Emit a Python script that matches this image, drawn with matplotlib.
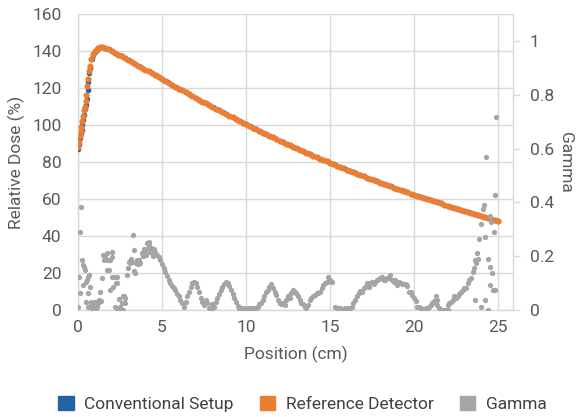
import numpy as np
import matplotlib
matplotlib.use('Agg')
import matplotlib.pyplot as plt
from matplotlib.patches import Patch
from matplotlib.ticker import FuncFormatter

plt.rcParams['font.family'] = ['Roboto', 'DejaVu Sans']

# depth dose, build-up region (cm, %)
buildup_x = [0.0, 0.05, 0.1, 0.15, 0.2, 0.25, 0.3, 0.35, 0.4, 0.45, 0.5,
             0.55, 0.6, 0.65, 0.7, 0.8, 0.9, 1.0, 1.1, 1.2, 1.3, 1.4]
ref_buildup = [88, 91, 94, 97, 99, 102, 105, 108, 110, 113, 116,
               121, 125, 129, 132, 136, 138.5, 140, 141, 141.8, 142.2, 142.3]
conv_buildup = [87, 90, 93, 95.5, 97.5, 100, 103, 105.5, 108.5, 111, 114,
                119, 123.5, 128, 131, 135.5, 138, 139.6, 140.8, 141.6, 142.1, 142.3]

# fall-off region, every 0.2 cm from 1.6 to 25.0
falloff_x = np.round(np.arange(1.6, 25.01, 0.2), 1)
falloff = [141.6, 140.9, 140.0, 139.1, 138.1, 137.1, 136.2, 135.2,
           134.2, 133.1, 132.1, 131.0, 130.0, 129.0, 127.9, 126.9, 125.8, 124.8,
           123.8, 122.8, 121.7, 120.7, 119.7, 118.7, 117.7, 116.7, 115.7, 114.7,
           113.7, 112.7, 111.8, 110.8, 109.8, 108.8, 107.9, 106.9, 106.0, 105.0,
           104.1, 103.1, 102.2, 101.2, 100.3, 99.4, 98.5, 97.6, 96.7, 95.8,
           95.0, 94.1, 93.3, 92.4, 91.6, 90.8, 89.9, 89.1, 88.2, 87.4,
           86.6, 85.8, 85.0, 84.2, 83.4, 82.6, 81.8, 81.1, 80.3, 79.5,
           78.8, 78.0, 77.3, 76.5, 75.8, 75.1, 74.4, 73.6, 72.9, 72.2,
           71.5, 70.8, 70.2, 69.5, 68.8, 68.1, 67.5, 66.8, 66.2, 65.5,
           64.9, 64.2, 63.6, 62.9, 62.3, 61.7, 61.1, 60.5, 59.9, 59.3,
           58.7, 58.1, 57.6, 57.0, 56.4, 55.8, 55.3, 54.7, 54.2, 53.6,
           53.1, 52.5, 52.0, 51.4, 50.9, 50.4, 49.9, 49.3, 48.8, 48.3]

gamma_x = [0.02, 0.06, 0.1, 0.12, 0.18, 0.22, 0.28, 0.32, 0.35, 0.4, 0.45, 0.48,
           0.52, 0.58, 0.61, 0.62, 0.68, 0.71, 0.72, 0.75, 0.8, 0.85, 0.9, 0.95,
           1.0, 1.05, 1.1, 1.15, 1.2, 1.25, 1.31, 1.38, 1.41, 1.5, 1.52, 1.6,
           1.7, 1.72, 1.78, 1.85, 1.9, 1.92, 2.0, 2.02, 2.05, 2.1, 2.15, 2.2,
           2.25, 2.3, 2.35, 2.4, 2.45, 2.5, 2.55, 2.6, 2.65, 2.7, 2.72, 2.78,
           2.8, 2.9, 3.0, 3.05, 3.1, 3.15, 3.2, 3.3, 3.32, 3.35, 3.4, 3.45,
           3.5, 3.55, 3.6, 3.65, 3.7, 3.8, 3.85, 3.9, 3.95, 4.0, 4.05, 4.1,
           4.15, 4.2, 4.25, 4.3, 4.35, 4.4, 4.45, 4.5, 4.55, 4.6, 4.7, 4.8,
           4.9, 5.0, 5.1, 5.2, 5.3, 5.4, 5.5, 5.6, 5.7, 5.8, 5.9, 6.0,
           6.1, 6.2, 6.3, 6.4, 6.5, 6.6, 6.7, 6.8, 6.9, 7.0, 7.1, 7.2,
           7.3, 7.4, 7.5, 7.6, 7.7, 7.8, 7.9, 8.0, 8.1, 8.2, 8.3, 8.4,
           8.5, 8.6, 8.7, 8.8, 8.9, 9.0, 9.1, 9.2, 9.3, 9.4, 9.5, 9.6,
           9.7, 9.8, 9.9, 10.0, 10.1, 10.2, 10.3, 10.4, 10.5, 10.6, 10.7, 10.8,
           10.9, 11.0, 11.1, 11.2, 11.3, 11.4, 11.5, 11.6, 11.7, 11.8, 11.9, 12.0,
           12.1, 12.2, 12.3, 12.4, 12.5, 12.6, 12.7, 12.8, 12.9, 13.0, 13.1, 13.2,
           13.3, 13.4, 13.5, 13.6, 13.7, 13.8, 13.9, 14.0, 14.1, 14.2, 14.3, 14.4,
           14.5, 14.6, 14.7, 14.8, 14.9, 15.0, 15.1, 15.3, 15.4, 15.5, 15.6, 15.7,
           15.8, 15.9, 16.0, 16.1, 16.2, 16.3, 16.4, 16.5, 16.6, 16.7, 16.8, 16.9,
           17.0, 17.1, 17.2, 17.3, 17.4, 17.5, 17.6, 17.7, 17.8, 17.9, 18.0, 18.1,
           18.2, 18.3, 18.4, 18.5, 18.6, 18.7, 18.8, 18.9, 19.0, 19.1, 19.2, 19.3,
           19.4, 19.5, 19.6, 19.7, 19.8, 19.9, 20.0, 20.1, 20.2, 20.3, 20.4, 20.5,
           20.6, 20.7, 20.8, 20.9, 21.0, 21.1, 21.2, 21.3, 21.35, 21.4, 21.5, 21.6,
           21.7, 21.8, 21.9, 22.0, 22.05, 22.1, 22.2, 22.3, 22.4, 22.5, 22.6, 22.7,
           22.8, 22.9, 23.0, 23.1, 23.2, 23.3, 23.4, 23.5, 23.6, 23.62, 23.65, 23.7,
           23.75, 23.8, 23.9, 24.0, 24.02, 24.1, 24.2, 24.22, 24.25, 24.3, 24.4, 24.42,
           24.5, 24.52, 24.55, 24.6, 24.62, 24.7, 24.75, 24.8, 24.82, 24.9]
gamma_y = [0.012, 0.123, 0.062, 0.29, 0.383, 0.185, 0.167, 0.093, 0.16, 0.148, 0.105, 0.03,
           0.111, 0.012, 0.062, 0.123, 0.13, 0.086, 0.012, 0.03, 0.02, 0.008, 0.025, 0.012,
           0.03, 0.005, 0.02, 0.012, 0.025, 0.035, 0.068, 0.031, 0.117, 0.204, 0.185, 0.197,
           0.21, 0.15, 0.185, 0.148, 0.185, 0.074, 0.216, 0.197, 0.123, 0.086, 0.123, 0.012,
           0.1, 0.123, 0.099, 0.0, 0.04, 0.012, 0.0, 0.025, 0.05, 0.0, 0.05, 0.025,
           0.045, 0.13, 0.155, 0.178, 0.175, 0.19, 0.178, 0.278, 0.222, 0.145, 0.137, 0.175,
           0.185, 0.17, 0.17, 0.185, 0.175, 0.21, 0.2, 0.215, 0.225, 0.22, 0.205, 0.248,
           0.23, 0.253, 0.24, 0.215, 0.23, 0.21, 0.2, 0.225, 0.22, 0.215, 0.205, 0.195,
           0.185, 0.17, 0.155, 0.14, 0.125, 0.11, 0.1, 0.09, 0.08, 0.072, 0.06, 0.05,
           0.038, 0.025, 0.012, 0.03, 0.05, 0.068, 0.086, 0.099, 0.105, 0.1, 0.086, 0.068,
           0.045, 0.03, 0.019, 0.037, 0.025, 0.006, 0.0, 0.02, 0.012, 0.03, 0.045, 0.06,
           0.072, 0.085, 0.095, 0.105, 0.1, 0.09, 0.075, 0.06, 0.045, 0.028, 0.015, 0.0,
           0.005, 0.0, 0.005, 0.0, 0.006, 0.0, 0.005, 0.0, 0.007, 0.008, 0.012, 0.02,
           0.025, 0.037, 0.05, 0.065, 0.075, 0.086, 0.095, 0.08, 0.065, 0.055, 0.037, 0.025,
           0.022, 0.025, 0.019, 0.035, 0.05, 0.043, 0.062, 0.074, 0.068, 0.062, 0.05, 0.035,
           0.025, 0.02, 0.012, 0.006, 0.019, 0.037, 0.043, 0.05, 0.055, 0.062, 0.062, 0.068,
           0.08, 0.093, 0.099, 0.105, 0.123, 0.11, 0.105, 0.012, 0.005, 0.0, 0.005, 0.0,
           0.0, 0.005, 0.0, 0.006, 0.005, 0.012, 0.025, 0.037, 0.05, 0.062, 0.071, 0.065,
           0.08, 0.086, 0.099, 0.086, 0.099, 0.105, 0.095, 0.105, 0.11, 0.115, 0.117, 0.123,
           0.11, 0.111, 0.117, 0.12, 0.13, 0.111, 0.104, 0.11, 0.093, 0.105, 0.1, 0.095,
           0.095, 0.095, 0.09, 0.068, 0.068, 0.056, 0.043, 0.031, 0.012, 0.012, 0.007, 0.0,
           0.0, 0.005, 0.0, 0.012, 0.019, 0.025, 0.031, 0.05, 0.037, 0.019, 0.006, 0.0,
           0.0, 0.0, 0.0, 0.019, 0.0, 0.025, 0.03, 0.037, 0.05, 0.045, 0.052, 0.06,
           0.065, 0.074, 0.08, 0.083, 0.099, 0.111, 0.117, 0.142, 0.154, 0.037, 0.185, 0.173,
           0.21, 0.19, 0.265, 0.32, 0.012, 0.377, 0.39, 0.27, 0.037, 0.568, 0.19, 0.0,
           0.35, 0.16, 0.093, 0.327, 0.136, 0.074, 0.29, 0.426, 0.074, 0.716]

dose_x = np.concatenate([buildup_x, falloff_x])
ref_y = np.concatenate([ref_buildup, falloff])
conv_y = np.concatenate([conv_buildup, falloff])

BLUE = '#2462a8'
ORANGE = '#ED7D31'
GRAY = '#A5A5A5'
TXT = '#595959'
GRID = '#D9D9D9'
FS = 12.5

fig = plt.figure(figsize=(5.78, 4.17), dpi=100)
ax = fig.add_axes([0.135, 0.257, 0.7526, 0.709])
ax2 = ax.twinx()

ax.plot(dose_x + 0.015, conv_y, 'o', color=BLUE, ms=4.0, mew=0, zorder=3)
ax.plot(dose_x, ref_y, 'o', color=ORANGE, ms=4.4, mew=0, zorder=4)
ax2.plot(gamma_x, gamma_y, 'o', color=GRAY, ms=3.8, mew=0, zorder=5)

ax.set_xlim(0, 25.9)
ax.set_ylim(0, 160)
ax2.set_ylim(0, 1.1)
ax.set_xticks([0, 5, 10, 15, 20, 25])
ax.set_yticks(range(0, 161, 20))
ax2.set_yticks([0, 0.2, 0.4, 0.6, 0.8, 1.0])
ax2.yaxis.set_major_formatter(FuncFormatter(lambda v, p: f'{v:g}'))

ax.grid(True, color=GRID, lw=1)
ax.set_axisbelow(True)

for a in (ax, ax2):
    for s in a.spines.values():
        s.set_color(GRID)
        s.set_linewidth(1)
    a.spines['top'].set_visible(False)
ax.spines['right'].set_visible(False)
ax2.spines['left'].set_visible(False)
ax2.spines['bottom'].set_visible(False)

ax.tick_params(axis='y', length=0, pad=12, labelsize=FS, labelcolor=TXT)
ax.tick_params(axis='x', length=0, pad=7, labelsize=FS, labelcolor=TXT)
ax2.tick_params(axis='y', length=5, width=1, color=GRID, pad=7, labelsize=FS, labelcolor=TXT)

ax.set_xlabel('Position (cm)', fontsize=FS, color=TXT, labelpad=8)
ax.set_ylabel('Relative Dose (%)', fontsize=FS, color=TXT, labelpad=5)
ax2.set_ylabel('Gamma', fontsize=FS, color=TXT, rotation=270, labelpad=14)

handles = [Patch(color=BLUE, label='Conventional Setup'),
           Patch(color=ORANGE, label='Reference Detector'),
           Patch(color=GRAY, label='Gamma')]
fig.legend(handles=handles, loc='center', bbox_to_anchor=(0.523, 0.031), ncol=3,
           frameon=False, fontsize=FS, labelcolor='#404040', handlelength=0.9,
           handleheight=0.9, handletextpad=0.6, columnspacing=1.5)

fig.savefig('out.png', dpi=100)
